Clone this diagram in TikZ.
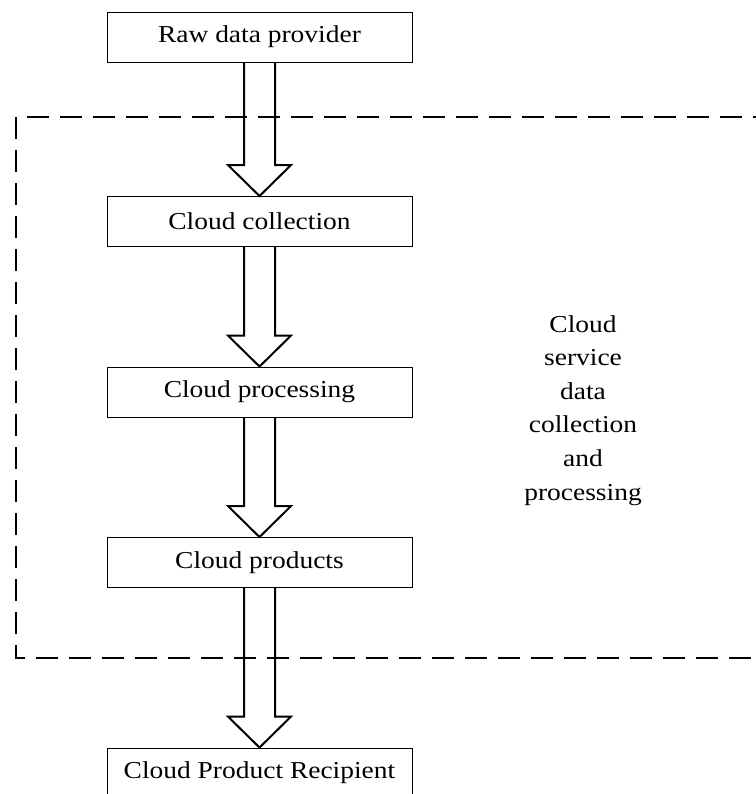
\documentclass[tikz,border=0pt]{standalone}
\usepackage{fontspec}
\setmainfont{Liberation Serif}[FakeStretch=1.13]
\usetikzlibrary{calc}
\newcommand\blockarrow[2]{%
  \draw[blockarr] ($(#1.south)+(-15.5,0)$) -- ($(#2.north)+(-15.5,-31)$)
    -- ($(#2.north)+(-31.5,-31)$) -- (#2.north) -- ($(#2.north)+(31.5,-31)$)
    -- ($(#2.north)+(15.5,-31)$) -- ($(#1.south)+(15.5,0)$);}
\begin{document}
\begin{tikzpicture}[x=1pt,y=-1pt,
  box/.style={draw, line width=0.9pt, minimum width=305pt, minimum height=50pt,
    inner sep=0pt, font=\fontsize{24.3}{33.6}\selectfont},
  blockarr/.style={draw, line width=2pt, line join=miter},
  framedash/.style={line width=2.8pt, dash pattern=on 22pt off 11pt},
  sidelabel/.style={align=center, inner sep=0pt, font=\fontsize{24.3}{33.6}\selectfont}]
\useasboundingbox (0,0) rectangle (755,794);
% dashed frame (open on the right)
\draw[framedash, dash phase=22pt] (16,117) -- (760,117);
\draw[framedash] (16,117) -- (16,658) -- (760,658);
% boxes
\node[box] (raw)  at (259.5,37)    {Raw data provider};
\node[box] (coll) at (259.5,221.5) {Cloud collection};
\node[box] (proc) at (259.5,392)   {Cloud processing};
\node[box] (prod) at (259.5,562.5) {Cloud products};
\node[box] (recp) at (259.5,773)   {Cloud Product Recipient};
% block arrows
\blockarrow{raw}{coll}
\blockarrow{coll}{proc}
\blockarrow{proc}{prod}
\blockarrow{prod}{recp}
% side label
\node[sidelabel, anchor=base] (lbl) at (583,500)
  {Cloud\\service\\data\\collection\\and\\processing};
\end{tikzpicture}
\end{document}
